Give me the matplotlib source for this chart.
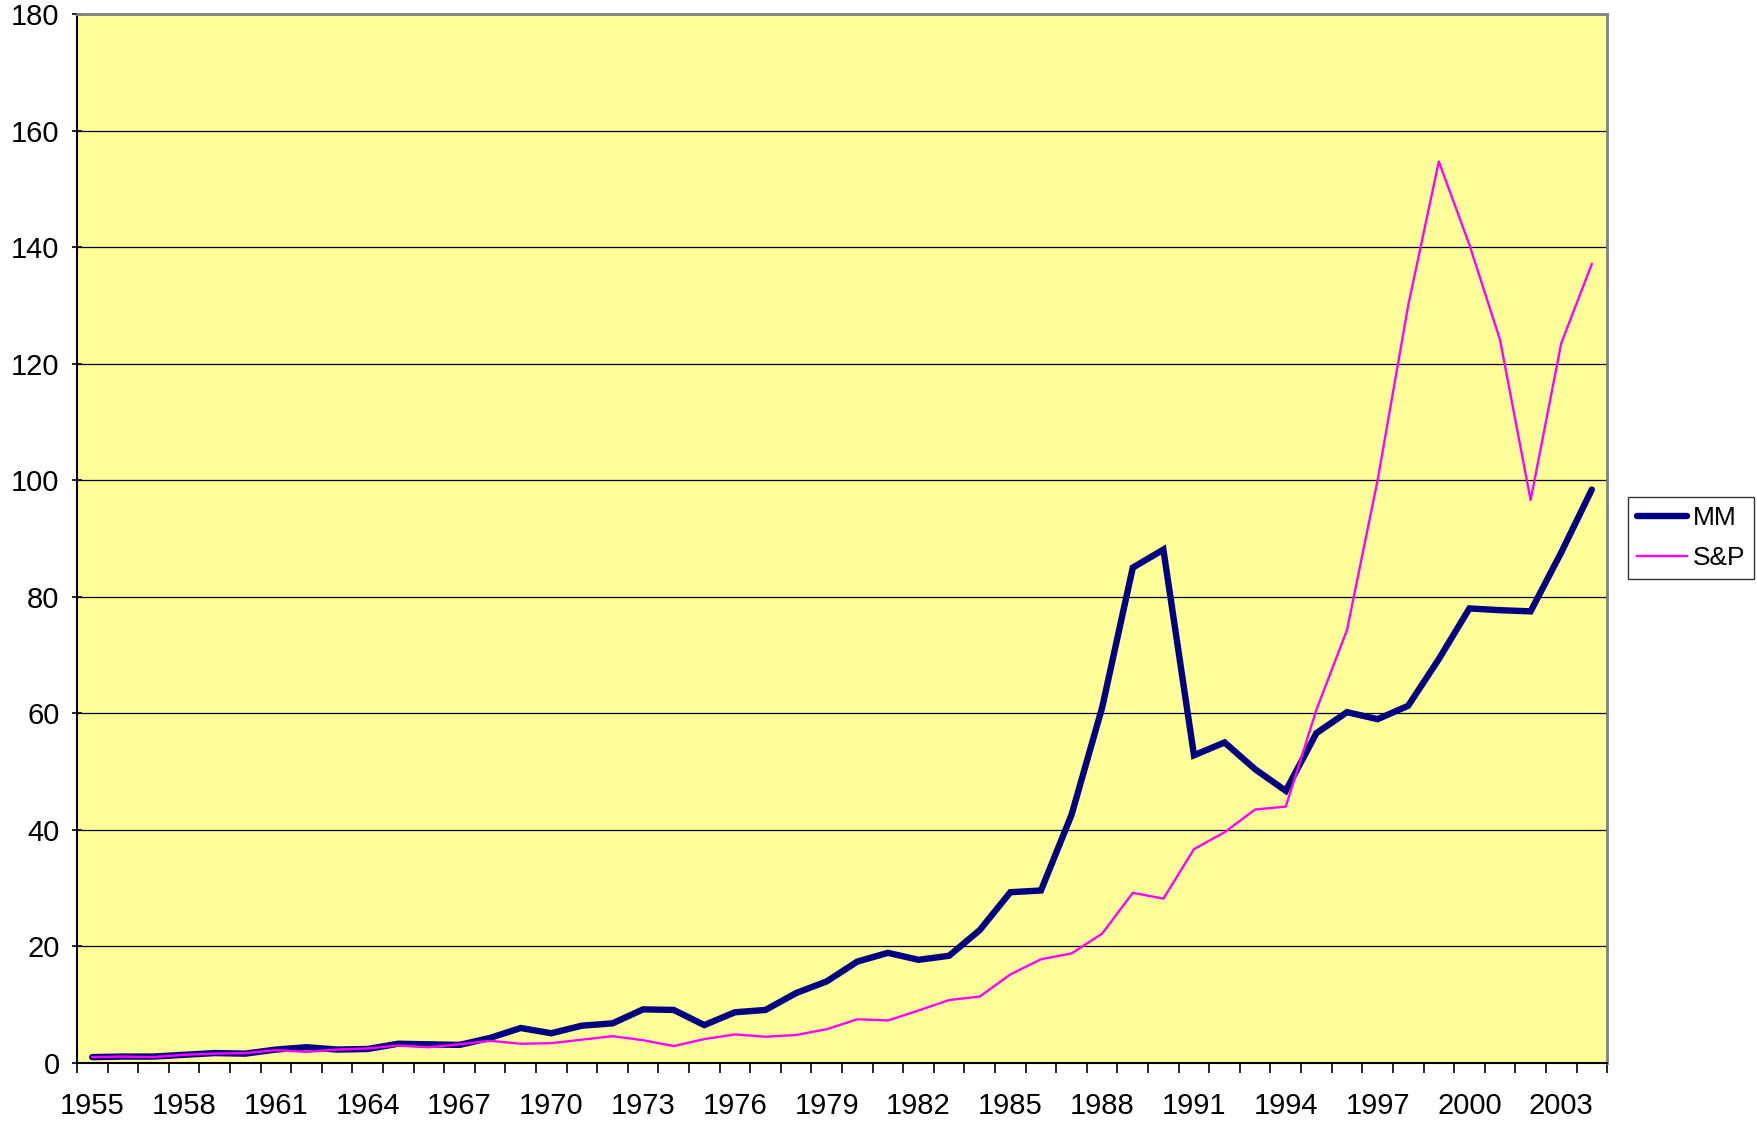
import matplotlib
matplotlib.use("Agg")
from matplotlib import pyplot as plt
from matplotlib.ticker import FixedLocator, NullFormatter
import numpy as np

plt.rcParams['font.family'] = ['Liberation Sans', 'DejaVu Sans']

# datos
years = list(range(1955, 2005))
mm = [1.0, 1.1, 1.1, 1.4, 1.7, 1.6, 2.3, 2.7, 2.3, 2.4,
      3.3, 3.2, 3.1, 4.3, 6.0, 5.1, 6.4, 6.8, 9.2, 9.1,
      6.5, 8.7, 9.1, 12.0, 14.0, 17.4, 18.9, 17.7, 18.4, 22.8,
      29.3, 29.6, 42.6, 61.0, 85.0, 88.1, 52.8, 55.0, 50.4, 46.7,
      56.6, 60.2, 59.0, 61.3, 69.3, 78.0, 77.7, 77.5, 87.6, 98.4]
sp = [1.0, 1.1, 1.0, 1.4, 1.6, 1.7, 2.2, 1.9, 2.3, 2.5,
      3.0, 2.7, 3.2, 3.8, 3.3, 3.4, 4.0, 4.6, 3.9, 2.9,
      4.1, 4.9, 4.5, 4.8, 5.8, 7.5, 7.3, 9.0, 10.8, 11.4,
      15.2, 17.8, 18.8, 22.2, 29.2, 28.2, 36.7, 39.6, 43.5, 44.0,
      60.6, 74.3, 100.0, 130.0, 154.7, 140.4, 124.1, 96.6, 123.5, 137.1]
y_ticks = list(range(0, 181, 20))

fig = plt.figure(figsize=(17.57, 11.24), dpi=100)
ax = fig.add_axes([0.0438, 0.0543, 0.8709, 0.9332])
ax.set_facecolor("#FFFF99")

x = np.arange(len(years))
ax.plot(x, mm, color="#000080", lw=4.6, solid_capstyle="round", solid_joinstyle="miter", label="MM", zorder=3)
ax.plot(x, sp, color="#FF00FF", lw=1.7, label="S&P", zorder=4)

ax.set_xlim(-0.5, len(years) - 0.5)
ax.set_ylim(0, 180)

# eje x: marcas entre categorias, etiquetas cada 3 años
ax.xaxis.set_major_locator(FixedLocator(x[::3]))
ax.set_xticklabels([str(y) for y in years[::3]])
ax.xaxis.set_minor_locator(FixedLocator(np.arange(-0.5, len(years), 1.0)))
ax.xaxis.set_minor_formatter(NullFormatter())
ax.tick_params(axis="x", which="major", length=0, pad=21, labelsize=21)
ax.tick_params(axis="x", which="minor", length=7, width=1.2, direction="out", color="black")

ax.set_yticks(y_ticks)
ax.tick_params(axis="y", length=7, width=1.2, direction="inout", pad=9, labelsize=21)

ax.grid(axis="y", color="black", lw=0.9)
ax.set_axisbelow(True)

for side in ["left", "bottom"]:
    ax.spines[side].set_color("black")
    ax.spines[side].set_linewidth(1.5)
for side in ["top", "right"]:
    ax.spines[side].set_color("#808080")
    ax.spines[side].set_linewidth(2)

leg = fig.legend(loc="upper left", bbox_to_anchor=(1628 / 1757, 1 - 497 / 1124),
                 fontsize=19, frameon=True, fancybox=False, edgecolor="black",
                 handlelength=1.9, handletextpad=0.2, borderpad=0.35,
                 labelspacing=0.6, borderaxespad=0)
leg.get_frame().set_linewidth(1.0)

fig.savefig("out.png", dpi=100)
